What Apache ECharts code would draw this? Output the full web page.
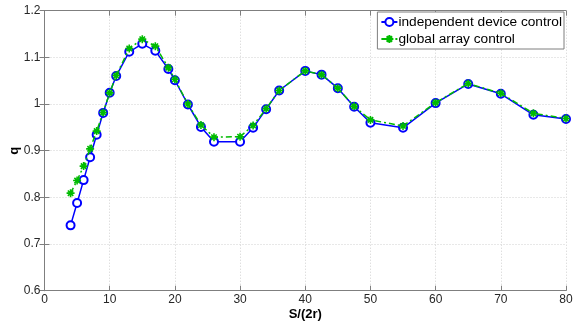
<!DOCTYPE html>
<html><head><meta charset="utf-8">
<script src="https://cdn.jsdelivr.net/npm/echarts@6/dist/echarts.min.js"></script>
<style>html,body{margin:0;padding:0;background:#fff}#c{width:588px;height:329px}</style>
</head><body><div id="c"></div>
<script>
const xVals = [4,5,6,7,8,9,10,11,13,15,17,19,20,22,24,26,30,32,34,36,40,42.5,45,47.5,50,55,60,65,70,75,80];
const independent = [0.740,0.788,0.837,0.886,0.934,0.981,1.024,1.060,1.112,1.129,1.114,1.075,1.051,0.999,0.951,0.919,0.919,0.949,0.989,1.029,1.071,1.063,1.034,0.994,0.960,0.949,1.002,1.043,1.022,0.977,0.968];
const globalArr = [0.809,0.836,0.867,0.904,0.942,0.982,1.024,1.061,1.119,1.139,1.124,1.078,1.053,1.000,0.955,0.929,0.930,0.954,0.990,1.029,1.071,1.063,1.034,0.995,0.966,0.953,1.003,1.044,1.023,0.980,0.969];
const seriesNames = ['independent device control','global array control'];
const xTicks = {min:0,max:80,interval:10};
const yTicks = {min:0.6,max:1.2,interval:0.1};

const star = 'path://M5 0 L5 10 M0 5 L10 5 M1.6 1.6 L8.4 8.4 M8.4 1.6 L1.6 8.4';
const pair = a => xVals.map((x,i)=>[x,a[i]]);
const font = 'Arial, "Liberation Sans", sans-serif';
const axisCommon = {
  axisLine:{show:true,onZero:false,lineStyle:{color:'#7f7f7f',width:1}},
  axisTick:{show:true,inside:true,length:5,lineStyle:{color:'#7f7f7f'}},
  splitLine:{show:true,lineStyle:{color:'#d0d0d0',type:[1,2],width:1}},
  nameMoveOverlap:false
};
const chart = echarts.init(document.getElementById('c'));
chart.setOption({
  animation:false,
  backgroundColor:'#fff',
  grid:{left:44.5,right:22,top:10.7,bottom:38.3,show:false,containLabel:false,outerBoundsMode:'none'},
  legend:{
    orient:'vertical',right:24,top:12,
    backgroundColor:'#fff',borderColor:'#7f7f7f',borderWidth:1,borderRadius:0,
    padding:[3,2,3,3],itemGap:3,itemWidth:16,itemHeight:10,
    textStyle:{fontSize:13.7,fontFamily:font,color:'#000',padding:[0,0,0,-4]},
    data:seriesNames
  },
  xAxis:[
    Object.assign({type:'value',min:xTicks.min,max:xTicks.max,interval:xTicks.interval,
      name:'S/(2r)',nameLocation:'middle',nameGap:17,
      nameTextStyle:{fontSize:13,fontWeight:'bold',fontFamily:font,color:'#000'},
      axisLabel:{color:'#262626',fontSize:12,fontFamily:font,margin:3}},axisCommon),
    {type:'value',position:'top',min:xTicks.min,max:xTicks.max,interval:xTicks.interval,
      axisLine:{show:true,lineStyle:{color:'#7f7f7f'}},axisTick:{show:true,inside:true,length:5,lineStyle:{color:'#7f7f7f'}},
      axisLabel:{show:false},splitLine:{show:false}}
  ],
  yAxis:[
    Object.assign({type:'value',min:yTicks.min,max:yTicks.max,interval:yTicks.interval,
      name:'q',nameLocation:'middle',nameGap:24,
      nameTextStyle:{fontSize:13,fontWeight:'bold',fontFamily:font,color:'#000'},
      axisLabel:{color:'#262626',fontSize:12,fontFamily:font,margin:4,formatter:v=>String(+v.toFixed(1))}},axisCommon),
    {type:'value',position:'right',min:yTicks.min,max:yTicks.max,interval:yTicks.interval,
      axisLine:{show:true,lineStyle:{color:'#7f7f7f'}},axisTick:{show:true,inside:true,length:5,lineStyle:{color:'#7f7f7f'}},
      axisLabel:{show:false},splitLine:{show:false}}
  ],
  series:[
    {name:seriesNames[0],type:'line',data:pair(independent),symbol:'emptyCircle',symbolSize:8,
      lineStyle:{color:'#0000ff',width:1.5},itemStyle:{color:'#0000ff',borderColor:'#0000ff',borderWidth:1.3},z:2},
    {name:seriesNames[1],type:'line',data:pair(globalArr),symbol:star,symbolSize:8,
      lineStyle:{color:'#00bb00',width:1.5,type:[6,3,2,3]},itemStyle:{color:'#00bb00',borderColor:'#00bb00',borderWidth:1.6},z:3}
  ]
});
</script></body></html>
